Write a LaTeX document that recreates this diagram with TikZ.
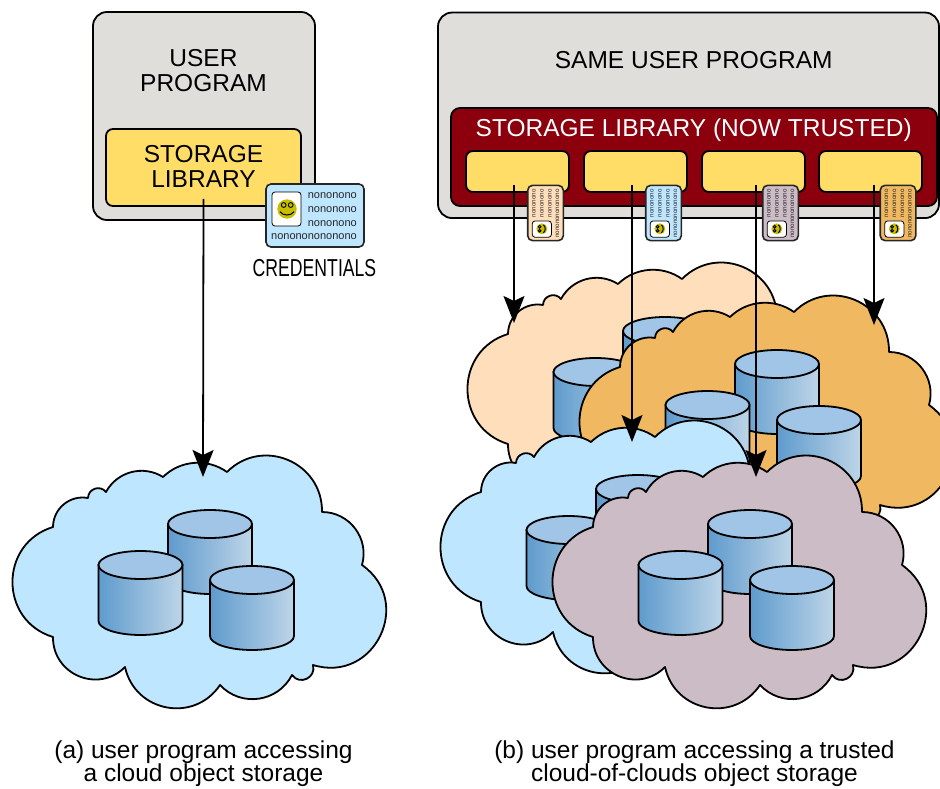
\documentclass[tikz,border=0pt]{standalone}
\usepackage{fontspec}
\setmainfont{Liberation Sans}
\newfontfamily\narrowfont[FakeStretch=0.72]{Liberation Sans}
\usetikzlibrary{arrows.meta,calc}

\definecolor{progGray}{HTML}{E0DEDA}
\definecolor{libYellow}{HTML}{FFDD66}
\definecolor{libRed}{HTML}{8C000E}
\definecolor{cloudBlue}{HTML}{BFE6FF}
\definecolor{cloudPeach}{HTML}{FFDEBB}
\definecolor{cloudOrange}{HTML}{F0B860}
\definecolor{cloudMauve}{HTML}{CBBCC6}
\definecolor{diskTop}{HTML}{A0C5E6}
\definecolor{diskDark}{HTML}{5F9BCD}
\definecolor{diskLight}{HTML}{BED5E8}
\definecolor{smileyYellow}{HTML}{C8BE00}

\begin{document}
\begin{tikzpicture}[x=1pt, y=-1pt,
    every node/.style={inner sep=0pt},
    big/.style={font=\fontsize{24.5}{25}\selectfont, align=center},
    progbox/.style={draw, line width=1.8pt, fill=progGray, rounded corners=14pt},
    libbox/.style={draw, line width=1.8pt, fill=libYellow, rounded corners=7pt},
    redbox/.style={draw, line width=1.8pt, fill=libRed, rounded corners=9pt},
    cardtxt/.style={font=\fontsize{11}{13}\selectfont, text=black!85},
    cloudline/.style={draw, line width=1.8pt, line join=round},
    arrowline/.style={line width=1.8pt, -{Stealth[length=27pt, width=21pt, inset=5pt]}},
    % one round puff of a cloud, close to a circular arc
    bump/.code={\pgfmathsetmacro\bumplen{(2/3)*tan(#1/2)/(0.3915*sin(#1))}%
        \edef\bumpdo{\noexpand\pgfkeysalso{bend left=#1, looseness=\bumplen}}\bumpdo},
    % storage disk, origin at the centre of the lid
    pics/disk/.style={code={
        \shadedraw[line width=1.8pt, left color=diskDark, middle color=diskDark,
                   right color=diskLight]
            (-42,0) -- (-42,56) arc[start angle=180, end angle=0,
                                    x radius=42, y radius=14] -- (42,0) -- cycle;
        \filldraw[line width=1.8pt, fill=diskTop] (0,0) ellipse[x radius=42, y radius=14];
    }},
    % cloud with three disks, drawn where the left one sits
    pics/storecloud/.style={code={
        \path[cloudline, fill=#1] (53,527) to[bump=50] (88,498) to[bump=70] (106,492)
            to[bump=47] (163,477) to[bump=40] (227,472) to[bump=68] (322,512)
            to[bump=53] (362,565) to[bump=81] (313,665) to[bump=80] (292,675)
            to[bump=55] (220,685) to[bump=67] (125,667) to[bump=68] (53,637)
            to[bump=73] (53,527) -- cycle;
        \pic at (210,524) {disk};
        \pic at (140.5,565) {disk};
        \pic at (252,580) {disk};
    }},
    % credentials card, origin at its centre
    pics/credcard/.style={code={
        \path[draw=black!85, line width=1.6pt, fill=#1, rounded corners=5pt]
            (-49,-31.5) rectangle (49,31.5);
        \path[draw, line width=0.8pt, fill=white, rounded corners=3pt]
            (-43,-23.5) rectangle (-14,10.5);
        \fill[smileyYellow] (-28,-6.5) circle[radius=9.7];
        \draw[line width=0.9pt, fill=smileyYellow]
            (-31.3,-10.5) circle[radius=2.4] (-24.3,-10.5) circle[radius=2.4];
        \draw[line width=1pt] (-35,-3.8) .. controls (-32,0.6) and (-24,0.6) .. (-21,-3.8);
        \foreach \yy/\txt [count=\k] in {-17.3/nononono, -3.3/nononono,
                                          10.7/nononono, 24.1/nonononononono}
            \node[cardtxt, anchor=base east] (-t\k) at (42,\yy) {\txt};
    }}
]
\useasboundingbox (0,0) rectangle (940,789);
\clip (0,0) rectangle (940,789);

% ============================
% (a) single cloud
% ============================
\node[progbox, minimum width=222pt, minimum height=208pt] (progA) at (204,116) {};
\node[big] (progAtxt) at (203.5,71) {USER\\PROGRAM};
\node[libbox, minimum width=195pt, minimum height=77pt] (libA) at (203.5,167.5) {};
\node[big] (libAtxt) at (203.5,166.8) {STORAGE\\LIBRARY};
\pic (credA) at (315,215.5) {credcard=cloudBlue};
\node[font=\narrowfont\fontsize{24.5}{25}\selectfont, anchor=base] (credAtxt)
    at (314.5,276) {CREDENTIALS};

\pic (cloudA) at (0,0) {storecloud=cloudBlue};

\coordinate (tipA) at (203,477);
\draw[arrowline] ([yshift=8pt]libA.south) -- (tipA);

% ============================
% (b) cloud-of-clouds
% ============================
\node[progbox, minimum width=501pt, minimum height=205.5pt] (progB) at (688.5,115.3) {};
\node[big, anchor=base] (progBtxt) at (693.7,69) {SAME USER PROGRAM};
\node[redbox, minimum width=486pt, minimum height=98pt] (libB) at (694,157) {};
\node[big, anchor=base, text=white] (libBtxt) at (693.7,137) {STORAGE LIBRARY (NOW TRUSTED)};
% one driver per cloud
\foreach \i/\x in {1/517.5, 2/635.5, 3/753.5, 4/870.5}
    \node[libbox, minimum width=103pt, minimum height=41pt] (lib\i) at (\x,171.5) {};
% a credential for each driver
\pic[rotate=90, scale=0.565, transform shape] (cred1) at (545.5,213) {credcard=cloudPeach};
\pic[rotate=90, scale=0.565, transform shape] (cred2) at (663.5,213) {credcard=cloudBlue};
\pic[rotate=90, scale=0.565, transform shape] (cred3) at (780.5,213) {credcard=cloudMauve};
\pic[rotate=90, scale=0.565, transform shape] (cred4) at (898,213) {credcard=cloudOrange};

% back to front
\pic (cloud1) at (455,-193) {storecloud=cloudPeach};
\pic (cloud4) at (567,-160) {storecloud=cloudOrange};
\pic (cloud2) at (428,-35) {storecloud=cloudBlue};
\pic (cloud3) at (540,0) {storecloud=cloudMauve};

\foreach \i/\x/\y in {1/514/323, 2/632/442, 3/756/477, 4/874/325}
    \coordinate (tip\i) at (\x,\y);
\foreach \i in {1,...,4}
    \draw[arrowline] (tip\i |- lib\i.south) ++(0,-8) -- (tip\i);

% ============================
% Captions
% ============================
\node[big, anchor=base] (capA1) at (203.5,758) {(a) user program accessing};
\node[big, anchor=base] (capA2) at (203.5,781) {a cloud object storage};
\node[big, anchor=base] (capB1) at (694.5,758) {(b) user program accessing a trusted};
\node[big, anchor=base] (capB2) at (694.5,781) {cloud-of-clouds object storage};

\end{tikzpicture}
\end{document}
